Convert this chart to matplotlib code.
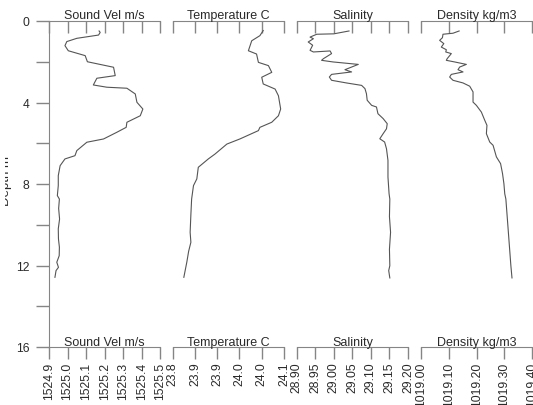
import numpy as np
import matplotlib
matplotlib.use('Agg')
import matplotlib.pyplot as plt
from matplotlib.transforms import Bbox, TransformedBbox

plt.rcParams['font.family'] = ['Liberation Sans', 'DejaVu Sans']

# CTD cast profiles, depth in metres
sv_depth = [0.49, 0.56, 0.69, 0.85, 1.01, 1.21, 1.46, 1.70, 2.00, 2.27, 2.68, 2.81, 3.14,
            3.25, 3.30, 3.58, 3.99, 4.32, 4.65, 4.97, 5.22, 5.46, 5.79, 5.95, 6.36,
            6.61, 6.77, 7.10, 7.59, 8.08, 8.57, 8.74, 9.20, 9.72, 10.20, 10.70,
            11.10, 11.52, 11.84, 12.09, 12.25, 12.58]
sv_value = [1525.170, 1525.176, 1525.167, 1525.050, 1524.996, 1524.986, 1525.004, 1525.095,
            1525.107, 1525.248, 1525.257, 1525.158, 1525.139, 1525.212, 1525.320,
            1525.365, 1525.374, 1525.406, 1525.392, 1525.320, 1525.316, 1525.266,
            1525.194, 1525.104, 1525.050, 1525.040, 1524.986, 1524.960, 1524.950,
            1524.950, 1524.945, 1524.956, 1524.952, 1524.957, 1524.950, 1524.951,
            1524.956, 1524.955, 1524.942, 1524.951, 1524.938, 1524.932]

temp_depth = [0.47, 0.72, 0.97, 1.46, 1.62, 2.03, 2.19, 2.52, 2.76, 3.09, 3.34, 3.67,
              4.32, 4.65, 4.97, 5.22, 5.38, 5.79, 6.04, 6.53, 6.77, 7.18, 7.75, 8.08,
              8.74, 9.50, 10.37, 10.86, 11.30, 11.84, 12.58]
temp_value = [24.044, 24.035, 24.013, 24.004, 24.026, 24.031, 24.058, 24.067, 24.040,
              24.044, 24.076, 24.085, 24.091, 24.085, 24.067, 24.035, 24.031, 23.981,
              23.946, 23.914, 23.896, 23.869, 23.865, 23.856, 23.851, 23.849, 23.847,
              23.849, 23.843, 23.838, 23.830]

sal_depth = [0.49, 0.63, 0.65, 0.79, 0.87, 1.03, 1.19, 1.44, 1.52, 1.47, 1.60, 1.85,
             1.93, 2.01, 2.13, 2.26, 2.39, 2.50, 2.62, 2.75, 2.91, 3.04, 3.16, 3.32,
             3.57, 3.89, 4.14, 4.22, 4.55, 4.79, 5.04, 5.29, 5.53, 5.78, 5.94, 6.27,
             6.84, 7.66, 8.48, 8.74, 9.60, 10.37, 11.20, 12.01, 12.25, 12.61]
sal_value = [29.041, 29.000, 28.954, 28.936, 28.945, 28.931, 28.943, 28.936, 28.945,
             28.990, 28.994, 28.972, 28.967, 28.998, 29.066, 29.048, 29.030, 29.048,
             28.994, 28.988, 28.994, 29.034, 29.075, 29.084, 29.088, 29.090, 29.102,
             29.115, 29.119, 29.133, 29.144, 29.142, 29.133, 29.124, 29.137, 29.142,
             29.146, 29.146, 29.149, 29.151, 29.150, 29.153, 29.150, 29.151, 29.148,
             29.151]

dens_depth = [0.49, 0.60, 0.65, 0.82, 0.95, 1.11, 1.28, 1.41, 1.52, 1.60, 1.85, 1.93,
              2.01, 2.13, 2.26, 2.39, 2.50, 2.62, 2.75, 2.91, 3.04, 3.20, 3.48, 3.98,
              4.14, 4.47, 4.87, 5.12, 5.53, 5.94, 6.10, 6.67, 7.00, 7.49, 7.99, 8.48,
              8.74, 10.37, 12.01, 12.61]
dens_value = [1019.137, 1019.115, 1019.079, 1019.077, 1019.067, 1019.082, 1019.073,
              1019.091, 1019.089, 1019.109, 1019.094, 1019.091, 1019.121, 1019.163,
              1019.139, 1019.133, 1019.151, 1019.109, 1019.103, 1019.115, 1019.151,
              1019.175, 1019.187, 1019.187, 1019.199, 1019.217, 1019.229, 1019.237,
              1019.235, 1019.247, 1019.259, 1019.271, 1019.286, 1019.293, 1019.298,
              1019.301, 1019.305, 1019.314, 1019.323, 1019.327]

titles = ['Sound Vel m/s', 'Temperature C', 'Salinity', 'Density kg/m3']
xticks = [
    [1524.9, 1525.0, 1525.1, 1525.2, 1525.3, 1525.4, 1525.5],
    [23.80, 23.86, 23.92, 23.98, 24.04, 24.10],
    [28.90, 28.95, 29.00, 29.05, 29.10, 29.15, 29.20],
    [1019.00, 1019.10, 1019.20, 1019.30, 1019.40],
]
tick_fmt = ['{:.1f}', '{:.1f}', '{:.2f}', '{:.2f}']
depth_ticks = [0, 2, 4, 6, 8, 10, 12, 14, 16]
depth_labels = ['0', '', '4', '', '8', '', '12', '', '16']

profiles = [(sv_value, sv_depth), (temp_value, temp_depth),
            (sal_value, sal_depth), (dens_value, dens_depth)]

W, H = 533, 406
fig = plt.figure(figsize=(W / 100, H / 100), dpi=100)

spine_col = '#858585'
line_col = '#555555'
text_col = '#2a2a2a'

lefts = [49, 172.7, 296.7, 421]
width = 111.3
top_px, bot_px = 22, 348

for i, (vals, depth) in enumerate(profiles):
    ax = fig.add_axes([lefts[i] / W, (H - bot_px) / H, width / W, (bot_px - top_px) / H])
    ax.plot(vals, depth, color=line_col, linewidth=0.8)
    ax.set_xlim(xticks[i][0], xticks[i][-1])
    ax.set_ylim(16, 0)

    for s in ['left', 'right', 'top', 'bottom']:
        ax.spines[s].set_visible(False)
    ax.spines['bottom'].set_visible(True)
    ax.spines['bottom'].set_color(spine_col)

    ax.set_xticks(xticks[i])
    ax.set_xticklabels([tick_fmt[i].format(v) for v in xticks[i]], rotation=90)
    ax.tick_params(axis='x', direction='out', length=8.6, width=1, color=spine_col,
                   labelsize=8.7, labelcolor=text_col, pad=2)

    # top axis: ticks hang down into the plot, no labels
    top = ax.secondary_xaxis('top')
    top.set_xticks(xticks[i])
    top.tick_params(axis='x', direction='in', length=8.6, width=1, color=spine_col,
                    labeltop=False)
    top.spines['top'].set_color(spine_col)

    if i == 0:
        ax.spines['left'].set_visible(True)
        ax.spines['left'].set_color(spine_col)
        ax.set_yticks(depth_ticks)
        ax.set_yticklabels(depth_labels)
        ax.tick_params(axis='y', direction='out', length=9.4, width=1, color=spine_col,
                       labelsize=8.7, labelcolor=text_col, pad=4.5)
    else:
        ax.set_yticks([])

    ax.text(0.5, 1.009, titles[i], transform=ax.transAxes, ha='center', va='baseline',
            fontsize=9, color=text_col)
    ax.text(0.5, 0.007, titles[i], transform=ax.transAxes, ha='center', va='baseline',
            fontsize=9, color=text_col)

ylab = fig.text(12 / W, 1 - 181 / H, 'Depth m', rotation=90, ha='right', va='center',
                fontsize=9.5, color=text_col)
ylab.set_clip_on(True)
ylab.set_clip_box(TransformedBbox(Bbox([[5 / W, 0], [1, 1]]), fig.transFigure))

fig.savefig('out.png', dpi=100)
